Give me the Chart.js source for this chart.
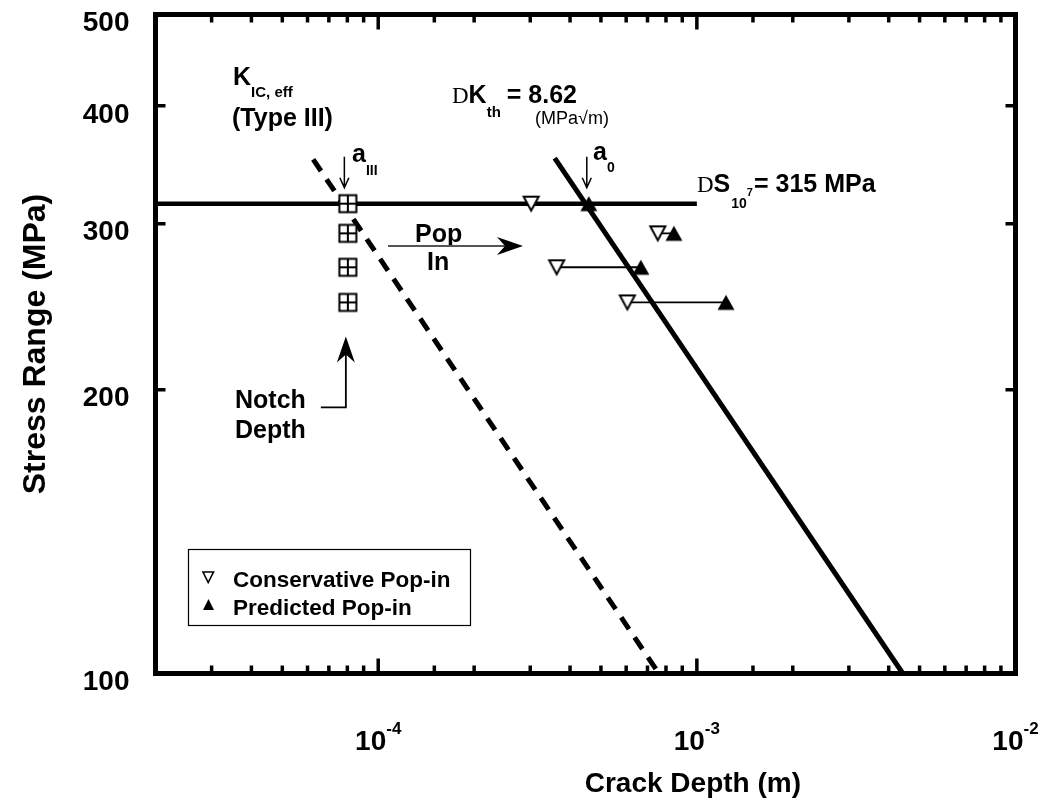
<!DOCTYPE html>
<html>
<head>
<meta charset="utf-8">
<script src="https://cdn.jsdelivr.net/npm/chart.js@4.4.0/dist/chart.umd.min.js"></script>
<style>
  html, body { margin: 0; padding: 0; background: #fff; }
</style>
</head>
<body>
<canvas id="chart" width="1049" height="808"></canvas>
<script>
// axes
const xRange = [2e-5, 1e-2];
const yRange = [100, 500];
const xTickValues = [1e-4, 1e-3, 1e-2];
const xTickExponents = ['-4', '-3', '-2'];
const yTickLabels = [100, 200, 300, 400, 500];

// delta S at 10^7 cycles = 315 MPa
const enduranceA = [2e-5, 1e-3];
const enduranceS = [315, 315];

// delta K_th = 8.62 line
const thresholdA = [3.58e-4, 4.43e-3];
const thresholdS = [352, 100];

// K_IC,eff (Type III) line
const kicA = [6.25e-5, 7.6e-4];
const kicS = [351, 100];

// notch depth and pop-in points (same stress levels)
const popS = [315, 293, 269.7, 247.5];
const notchA = [8.03e-5, 8.03e-5, 8.03e-5, 8.03e-5];
const consA = [3.02e-4, 7.54e-4, 3.63e-4, 6.05e-4];
const predA = [4.58e-4, 8.47e-4, 6.67e-4, 1.234e-3];

const FF = '"Liberation Sans", Arial, Helvetica, sans-serif';
const SERIF = '"Liberation Serif", "Times New Roman", serif';
Chart.defaults.font.family = FF;
Chart.defaults.color = '#000';

function pts(xs, ys) {
    return xs.map(function (x, i) { return { x: x, y: ys[i] }; });
}

// connector lines between conservative and predicted pop-in
const connectors = [];
consA.forEach(function (a, i) {
    connectors.push({ x: a, y: popS[i] }, { x: predA[i], y: popS[i] }, { x: predA[i], y: null });
});

// marker images
function makeMarker(w, h, draw) {
    const c = document.createElement('canvas');
    c.width = w; c.height = h;
    draw(c.getContext('2d'));
    return c;
}
const openDown = makeMarker(20, 20, function (g) {
    g.beginPath();
    g.moveTo(2.5, 3); g.lineTo(17.5, 3); g.lineTo(10, 17); g.closePath();
    g.fillStyle = '#fff'; g.fill();
    g.lineWidth = 2; g.strokeStyle = '#000'; g.stroke();
});
const filledUp = makeMarker(20, 20, function (g) {
    g.beginPath();
    g.moveTo(10, 2.5); g.lineTo(18.5, 17.5); g.lineTo(1.5, 17.5); g.closePath();
    g.fillStyle = '#000'; g.fill();
});
const notchMark = makeMarker(22, 22, function (g) {
    g.fillStyle = '#fff'; g.fillRect(2.5, 2.5, 17, 17);
    g.lineWidth = 2; g.strokeStyle = '#000';
    g.strokeRect(2.5, 2.5, 17, 17);
    g.beginPath();
    g.moveTo(11, 2.5); g.lineTo(11, 19.5);
    g.moveTo(2.5, 11); g.lineTo(19.5, 11);
    g.stroke();
});

// frame, inward ticks, x labels, annotations and legend
const notes = {
    id: 'notes',
    afterDraw: function (chart) {
        const ctx = chart.ctx;
        const a = chart.chartArea;
        const xs = chart.scales.x, ys = chart.scales.y;
        const px = function (v) { return xs.getPixelForValue(v); };
        const py = function (v) { return ys.getPixelForValue(v); };

        ctx.save();
        ctx.strokeStyle = '#000';
        ctx.fillStyle = '#000';

        // frame
        ctx.lineWidth = 5;
        ctx.lineJoin = 'miter';
        ctx.strokeRect(a.left, a.top, a.right - a.left, a.bottom - a.top);

        // ticks
        ctx.lineWidth = 3.5;
        ctx.beginPath();
        xs.ticks.forEach(function (t) {
            const v = t.value;
            if (v <= xRange[0] * 1.001 || v >= xRange[1] * 0.999) return;
            const lg = Math.log10(v);
            const len = Math.abs(lg - Math.round(lg)) < 1e-6 ? 15 : 8;
            const x = px(v);
            ctx.moveTo(x, a.bottom); ctx.lineTo(x, a.bottom - len);
            ctx.moveTo(x, a.top); ctx.lineTo(x, a.top + len);
        });
        ys.ticks.forEach(function (t) {
            const v = t.value;
            if (yTickLabels.indexOf(v) < 0) return;
            if (v <= yRange[0] * 1.001 || v >= yRange[1] * 0.999) return;
            const y = py(v);
            ctx.moveTo(a.left, y); ctx.lineTo(a.left + 10, y);
            ctx.moveTo(a.right, y); ctx.lineTo(a.right - 10, y);
        });
        ctx.stroke();

        // text helper: runs drawn one after another
        function runs(x, y, list) {
            ctx.textAlign = 'left';
            ctx.textBaseline = 'alphabetic';
            list.forEach(function (r) {
                ctx.font = r[1];
                ctx.fillText(r[0], x, y + (r[2] || 0));
                x += ctx.measureText(r[0]).width + (r[3] || 0);
            });
        }
        function width(list) {
            let w = 0;
            list.forEach(function (r) { ctx.font = r[1]; w += ctx.measureText(r[0]).width; });
            return w;
        }

        // x tick labels 10^n
        xTickValues.forEach(function (v, i) {
            const list = [['10', 'bold 28px ' + FF], [xTickExponents[i], 'bold 17px ' + FF, -16]];
            runs(px(v) - width(list) / 2, 750, list);
        });

        // x axis title
        ctx.font = 'bold 28px ' + FF;
        ctx.textAlign = 'center';
        ctx.fillText('Crack Depth (m)', px(1e-3) - 4, 792);

        const B = 'bold 25px ' + FF;
        const S = 'bold 15px ' + FF;

        // K_IC,eff (Type III)
        runs(233, 85, [['K', B, 0, 0], ['IC, eff', S, 12]]);
        runs(232, 126, [['(Type III)', B]]);

        // a_III with arrow
        runs(352, 162, [['a', B, 0, 0], ['III', 'bold 14px ' + FF, 13]]);
        const xa = px(notchA[0]) - 3.5, ya = py(popS[0]);
        ctx.lineWidth = 1.5;
        ctx.beginPath();
        ctx.moveTo(xa, ya - 47); ctx.lineTo(xa, ya - 16);
        ctx.moveTo(xa - 4.5, ya - 26); ctx.lineTo(xa, ya - 16); ctx.lineTo(xa + 4.5, ya - 26);
        ctx.stroke();

        // DK_th = 8.62 (MPa sqrt m)
        runs(452, 103, [['D', '23px ' + SERIF, 0, 0], ['K', B], ['th', S, 14, 6], ['= 8.62', B]]);
        runs(535, 124, [['(MPa\u221Am)', '18px ' + FF]]);

        // a_0 with arrow
        runs(593, 160, [['a', B, 0, 0], ['0', 'bold 14px ' + FF, 12]]);
        const x0 = px(predA[0]) - 2;
        ctx.beginPath();
        ctx.moveTo(x0, ya - 47); ctx.lineTo(x0, ya - 16);
        ctx.moveTo(x0 - 4.5, ya - 26); ctx.lineTo(x0, ya - 16); ctx.lineTo(x0 + 4.5, ya - 26);
        ctx.stroke();

        // DS_10^7 = 315 MPa
        runs(697, 192, [['D', '23px ' + SERIF], ['S', B, 0, 1], ['10', 'bold 14px ' + FF, 16], ['7', 'bold 11px ' + FF, 4, 1], ['= 315 MPa', B]]);

        // filled arrow head
        function head(x, y, dx, dy) {
            const len = 26, half = 9, back = 18;
            const nx = -dy, ny = dx;
            ctx.beginPath();
            ctx.moveTo(x, y);
            ctx.lineTo(x - dx * len + nx * half, y - dy * len + ny * half);
            ctx.lineTo(x - dx * back, y - dy * back);
            ctx.lineTo(x - dx * len - nx * half, y - dy * len - ny * half);
            ctx.closePath();
            ctx.fill();
        }

        // Pop In arrow
        runs(415, 242, [['Pop', B]]);
        runs(427, 270, [['In', B]]);
        ctx.strokeStyle = '#555';
        ctx.lineWidth = 1.8;
        ctx.beginPath();
        ctx.moveTo(388, 246); ctx.lineTo(505, 246);
        ctx.stroke();
        head(523, 246, 1, 0);

        // Notch depth arrow
        ctx.strokeStyle = '#000';
        const xn = px(notchA[3]) - 2, yn = py(popS[3]);
        runs(235, 408, [['Notch', B]]);
        runs(235, 438, [['Depth', B]]);
        ctx.lineWidth = 1.8;
        ctx.beginPath();
        ctx.moveTo(xn - 25, yn + 105); ctx.lineTo(xn, yn + 105); ctx.lineTo(xn, yn + 52);
        ctx.stroke();
        head(xn, yn + 34, 0, -1);

        // legend
        ctx.lineWidth = 1.2;
        ctx.strokeRect(188.5, 549.5, 282, 76);
        ctx.lineWidth = 1.6;
        ctx.beginPath();
        ctx.moveTo(203, 572); ctx.lineTo(213.5, 572); ctx.lineTo(208.2, 582.5); ctx.closePath();
        ctx.stroke();
        ctx.beginPath();
        ctx.moveTo(208.5, 599); ctx.lineTo(214, 610); ctx.lineTo(203, 610); ctx.closePath();
        ctx.fill();
        runs(233, 587, [['Conservative Pop-in', 'bold 22.5px ' + FF]]);
        runs(233, 615, [['Predicted Pop-in', 'bold 22.5px ' + FF]]);

        ctx.restore();
    }
};

new Chart(document.getElementById('chart'), {
    type: 'scatter',
    data: {
        datasets: [
            {
                label: 'Notch Depth',
                data: pts(notchA, popS),
                pointStyle: notchMark,
                pointRadius: 8,
                showLine: false
            },
            {
                label: 'Predicted Pop-in',
                data: pts(predA, popS),
                pointStyle: filledUp,
                pointRadius: 8,
                showLine: false
            },
            {
                label: 'Conservative Pop-in',
                data: pts(consA, popS),
                pointStyle: openDown,
                pointRadius: 8,
                showLine: false
            },
            {
                label: 'Pop-in shift',
                data: connectors,
                showLine: true,
                borderColor: '#000',
                borderWidth: 1.8,
                pointRadius: 0
            },
            {
                label: 'DS 10^7 = 315 MPa',
                data: pts(enduranceA, enduranceS),
                showLine: true,
                borderColor: '#000',
                borderWidth: 4.5,
                pointRadius: 0
            },
            {
                label: 'DK th = 8.62',
                data: pts(thresholdA, thresholdS),
                showLine: true,
                borderColor: '#000',
                borderWidth: 5,
                pointRadius: 0
            },
            {
                label: 'K IC,eff (Type III)',
                data: pts(kicA, kicS),
                showLine: true,
                borderColor: '#000',
                borderWidth: 5,
                borderDash: [14, 10],
                pointRadius: 0
            }
        ]
    },
    options: {
        responsive: false,
        animation: false,
        layout: { padding: { top: 14.5, right: 33.5, left: 0, bottom: 0 } },
        plugins: {
            legend: { display: false },
            tooltip: { enabled: false }
        },
        scales: {
            x: {
                type: 'logarithmic',
                min: xRange[0],
                max: xRange[1],
                grid: { display: false, drawTicks: false },
                border: { display: false },
                ticks: { display: false },
                afterFit: function (s) { s.height = 134.5; s.paddingLeft = 0; s.paddingRight = 0; }
            },
            y: {
                type: 'logarithmic',
                min: yRange[0],
                max: yRange[1],
                grid: { display: false, drawTicks: false },
                border: { display: false },
                ticks: {
                    autoSkip: false,
                    padding: 26,
                    labelOffset: 9,
                    font: { size: 28, weight: 'bold' },
                    callback: function (v) { return yTickLabels.indexOf(v) >= 0 ? String(v) : ''; }
                },
                title: {
                    display: true,
                    text: 'Stress Range (MPa)',
                    font: { size: 32, weight: 'bold' },
                    padding: { top: 17, bottom: 0 }
                },
                afterFit: function (s) { s.width = 155.5; s.paddingTop = 0; s.paddingBottom = 0; }
            }
        }
    },
    plugins: [notes]
});
</script>
</body>
</html>
